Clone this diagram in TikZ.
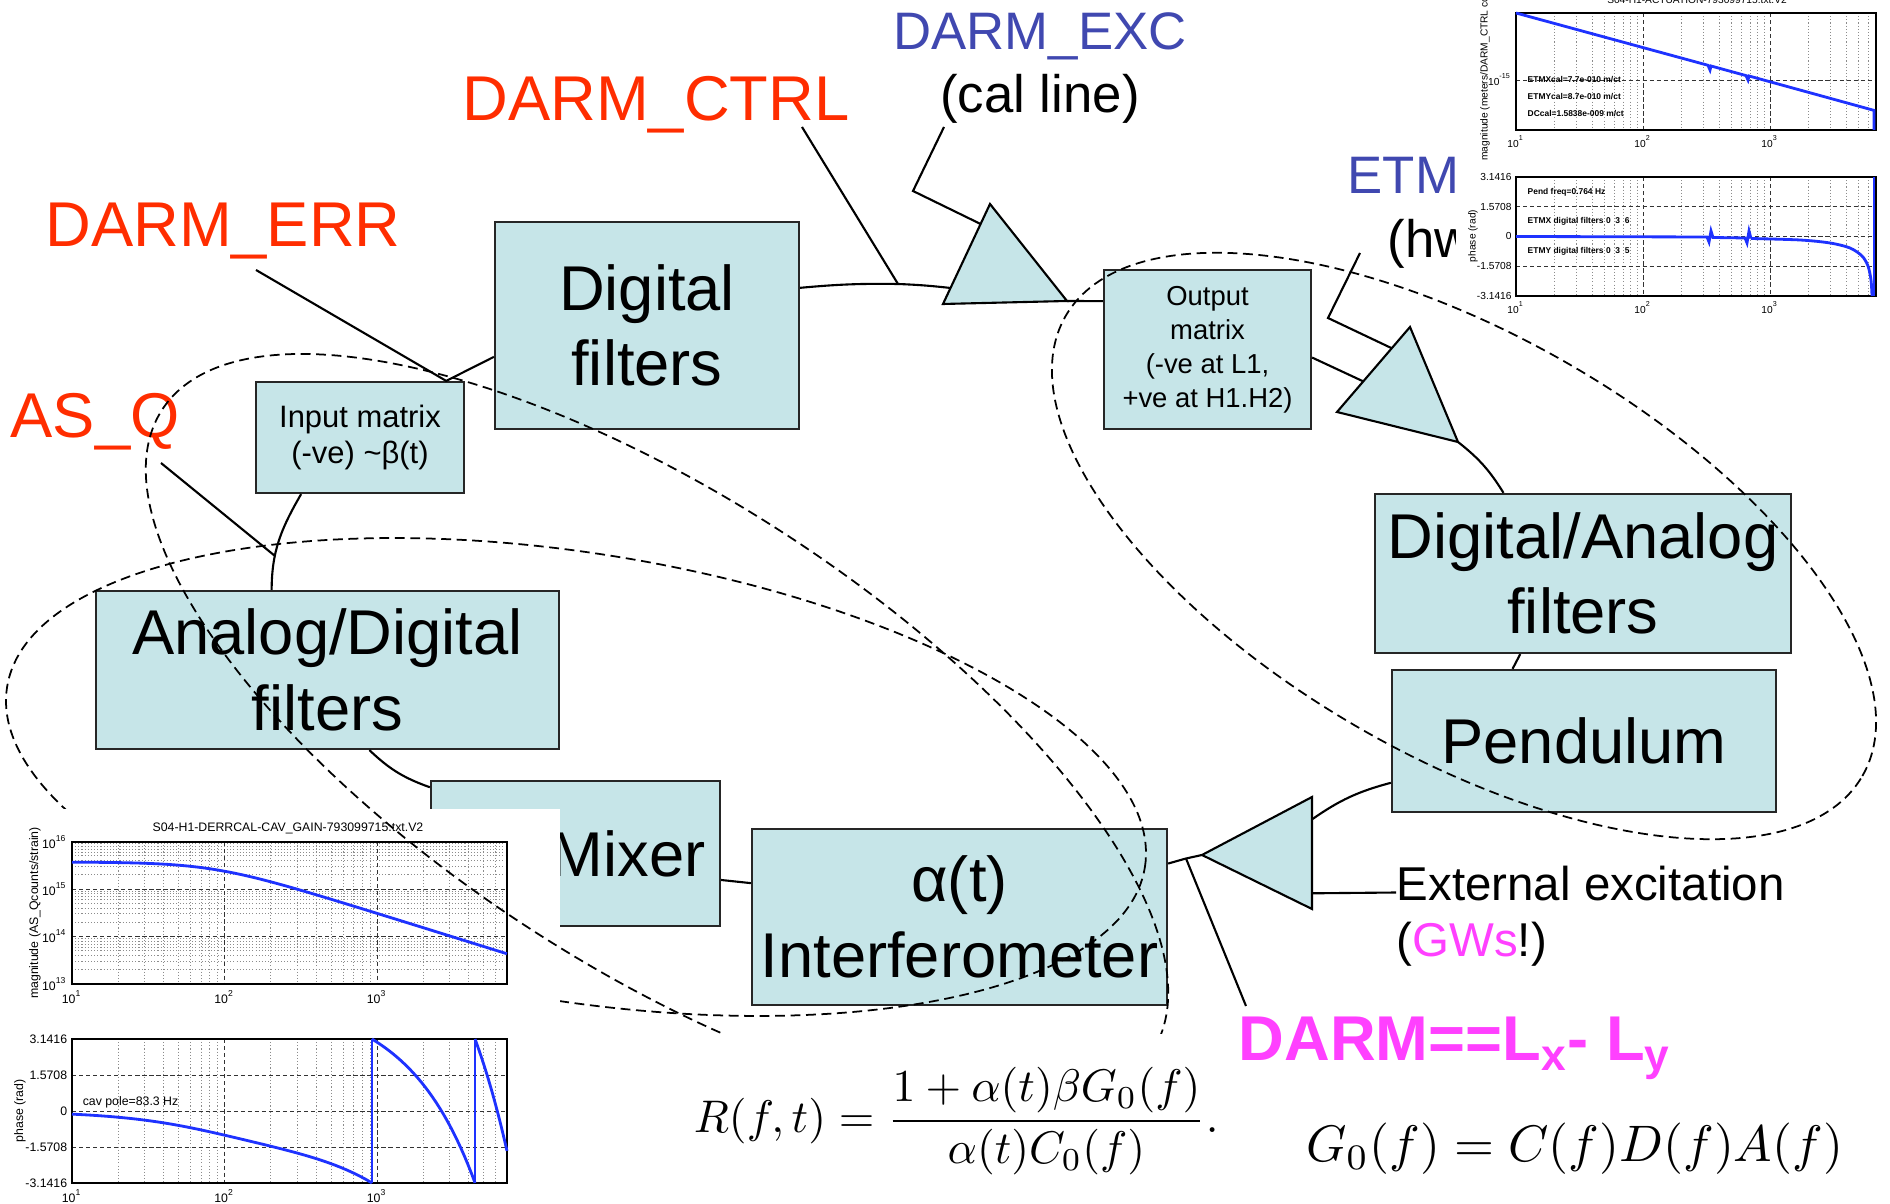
\documentclass[tikz,border=0pt]{standalone}
\usepackage[no-math]{fontspec}
\setmainfont{Liberation Sans}
\usepackage{tikz}
\usetikzlibrary{calc}

\definecolor{boxcyan}{RGB}{198,229,232}
\definecolor{darmred}{RGB}{255,45,0}
\definecolor{darmblue}{RGB}{64,72,176}
\definecolor{darmpink}{RGB}{255,64,255}
\definecolor{bodeblue}{RGB}{30,50,255}

\newcommand{\bigblockfont}{\fontsize{18}{21.5}\selectfont}
\newcommand{\inmatfont}{\fontsize{8.8}{10.2}\selectfont}
\newcommand{\outmatfont}{\fontsize{7.8}{9.7}\selectfont}
\newcommand{\sigfont}{\fontsize{18}{21}\selectfont}
\newcommand{\injfont}{\fontsize{15}{18}\selectfont}
\newcommand{\extfont}{\fontsize{13.5}{16}\selectfont}
\newcommand{\bodefont}{\fontsize{3.5}{4}\selectfont}
\newcommand{\actfont}{\fontsize{2.9}{3.4}\selectfont}
\newcommand{\pw}[1]{10\textsuperscript{#1}}

\tikzset{
  blockbox/.style={draw=black!85, fill=boxcyan, line width=0.6pt, inner sep=2pt, align=center, font=\bigblockfont},
  ampshape/.style={draw=black, fill=boxcyan, line width=0.6pt, line join=miter},
  wire/.style={draw=black, line width=0.6pt},
  loopdash/.style={draw=black, line width=0.5pt, dash pattern=on 2.8pt off 1.6pt},
  redlabel/.style={text=darmred, font=\sigfont, inner sep=0pt},
  bluelabel/.style={text=darmblue, font=\injfont, inner sep=0pt},
  blacklabel/.style={text=black, font=\injfont, inner sep=0pt},
  gridminor/.style={draw=black!45, line width=0.2pt, dash pattern=on 0.3pt off 0.6pt},
  gridmajor/.style={draw=black!80, line width=0.25pt, dash pattern=on 1.2pt off 0.8pt},
  plotframe/.style={draw=black, line width=0.6pt},
  bodecurve/.style={draw=bodeblue, line width=0.8pt},
  bodetick/.style={font=\bodefont, inner sep=0.6pt},
  acttick/.style={font=\actfont, inner sep=0.5pt},
  actnote/.style={font=\fontsize{2.4}{3}\selectfont\bfseries, inner sep=0pt, anchor=west},
}

\begin{document}
\begin{tikzpicture}[x=0.01cm, y=0.01cm]
    \useasboundingbox (0,0) rectangle (1890,-1204);

    % Signal names
    \node[redlabel, anchor=base] (darmctrl) at (656,-121) {DARM\_CTRL};
    \node[redlabel, anchor=base] (darmerr) at (223,-247) {DARM\_ERR};
    \node[redlabel, anchor=base] (asq) at (95,-438) {AS\_Q};
    \node[bluelabel, anchor=base] (darmexc) at (1040,-50) {DARM\_EXC};
    \node[blacklabel, anchor=base] (calline) at (1040,-113) {(cal line)};
    \node[bluelabel, anchor=base west] (etm) at (1347,-194) {ETM};
    \node[blacklabel, anchor=base west] (hwinj) at (1387,-258) {(hw};
    \node[anchor=base west, inner sep=0pt, font=\extfont] (extexc) at (1396,-901) {External excitation};
    \node[anchor=base west, inner sep=0pt, font=\extfont] (gws) at (1396,-957) {(\textcolor{darmpink}{GWs}!)};

    % Loop blocks
    \node[blockbox, minimum width=3.04cm, minimum height=2.07cm] (digf) at (647,-325.5) {Digital\\filters};
    \node[blockbox, font=\inmatfont, minimum width=2.08cm, minimum height=1.11cm] (inmat) at (360,-437.5) {Input matrix\\(-ve) \textasciitilde β(t)};
    \node[blockbox, minimum width=4.63cm, minimum height=1.58cm] (adf) at (327.5,-670) {Analog/Digital\\filters};
    \node[blockbox, minimum width=2.89cm, minimum height=1.45cm, text width=2.6cm, align=right] (mixer) at (575.5,-853.5) {Mixer};
    \node[blockbox, minimum width=4.15cm, minimum height=1.76cm] (ifo) at (959.5,-917) {α(t)\\Interferometer};
    \node[blockbox, font=\outmatfont, minimum width=2.07cm, minimum height=1.59cm] (outmat) at (1207.5,-349.5) {Output\\matrix\\(-ve at L1,\\+ve at H1.H2)};
    \node[blockbox, minimum width=4.16cm, minimum height=1.59cm] (daf) at (1583,-573.5) {Digital/Analog\\filters};
    \node[blockbox, minimum width=3.84cm, minimum height=1.42cm] (pend) at (1584,-741) {Pendulum};

    % Amplifiers
    \coordinate (exap) at (990,-204);
    \coordinate (exbl) at (943,-304);
    \coordinate (exbr) at (1067,-301);
    \draw[ampshape] (exap) -- (exbl) -- (exbr) -- cycle;
    \coordinate (etmap) at (1410,-327);
    \coordinate (etmlf) at (1337,-412);
    \coordinate (etmbr) at (1458,-442);
    \draw[ampshape] (etmap) -- (etmlf) -- (etmbr) -- cycle;
    \coordinate (ifotip) at (1202,-855);
    \coordinate (ifotop) at (1312,-797);
    \coordinate (ifobot) at (1312,-909);
    \draw[ampshape] (ifotip) -- (ifotop) -- (ifobot) -- cycle;

    % Connectors
    \coordinate (ctrltap) at (898,-284);
    \coordinate (ctrlfoot) at (802,-127);
    \coordinate (excfoot) at (944,-127);
    \coordinate (excknee) at (913,-191);
    \coordinate (errfoot) at (256,-270);
    \coordinate (errtap) at ($(inmat.north west)!.91!(inmat.north east)$);
    \coordinate (asqfoot) at (161,-463);
    \coordinate (asqtap) at (275,-556);
    \coordinate (darmtap) at (1186,-858.5);
    \coordinate (darmfoot) at (1246,-1006);
    \coordinate (etmfoot) at (1360,-253);
    \coordinate (etmknee) at (1328,-318);

    \draw[wire] ($(digf.north east)!.32!(digf.south east)$) to[bend left=3] (ctrltap) to[bend left=2] ($(exbl)!.16!(exap)$);
    \draw[wire] (ctrlfoot) -- (ctrltap);
    \draw[wire] (excfoot) -- (excknee) -- ($(exbl)!.8!(exap)$);
    \draw[wire] (exbr) -- ($(outmat.north west)!.2!(outmat.south west)$);
    \draw[wire] (errfoot) -- (errtap) -- ($(digf.north west)!.65!(digf.south west)$);
    \draw[wire] ($(inmat.south west)!.22!(inmat.south east)$) to[out=240, in=90] ($(adf.north west)!.38!(adf.north east)$);
    \draw[wire] (asqfoot) -- (asqtap);
    \draw[wire] ($(adf.south west)!.59!(adf.south east)$) to[bend right=12] ($(mixer.north west)!.05!(mixer.south west)$);
    \draw[wire] ($(mixer.north east)!.68!(mixer.south east)$) -- ($(ifo.north west)!.31!(ifo.south west)$);
    \draw[wire] ($(ifo.north east)!.2!(ifo.south east)$) -- (darmtap) -- (ifotip);
    \draw[wire] (darmtap) -- (darmfoot);
    \draw[wire] ($(ifotop)!.2!(ifobot)$) to[bend left=10] ($(pend.north west)!.79!(pend.south west)$);
    \draw[wire] ($(ifotop)!.86!(ifobot)$) -- ($(extexc.west)!.5!(extexc.base west)$);
    \draw[wire] ($(outmat.north east)!.55!(outmat.south east)$) -- ($(etmlf)!.36!(etmap)$);
    \draw[wire] (etmfoot) -- (etmknee) -- ($(etmlf)!.75!(etmap)$);
    \draw[wire] (etmbr) to[bend left=10] ($(daf.north west)!.31!(daf.north east)$);
    \draw[wire] ($(daf.south west)!.35!(daf.south east)$) -- ($(pend.north west)!.315!(pend.north east)$);

    % Lower dashed loop (goes under the plot)
    \draw[loopdash, rotate around={-9:(576,-777)}] (576,-777) ellipse [x radius=576, y radius=224];

    % Bottom left: cavity gain Bode plot
    \fill[white] (0,-809) rectangle (560,-1204);
    \foreach \d in {0,1,2}{
        \foreach \k in {2,...,9}{
            \pgfmathsetmacro{\gx}{72+152.5*(\d+ln(\k)/2.302585)}
            \pgfmathsetmacro{\gy}{-984+47.5*(\d+ln(\k)/2.302585)}
            \draw[gridminor] (72,\gy) -- (507,\gy);
            \ifdim\gx pt<507pt
                \draw[gridminor] (\gx,-842) -- (\gx,-984);
                \draw[gridminor] (\gx,-1039) -- (\gx,-1183);
            \fi
        }
    }
    \foreach \gx in {224.5,377}{
        \draw[gridmajor] (\gx,-842) -- (\gx,-984);
        \draw[gridmajor] (\gx,-1039) -- (\gx,-1183);
    }
    \foreach \gy in {-889,-936.5,-1075,-1111,-1147}
        \draw[gridmajor] (72,\gy) -- (507,\gy);
    \draw[plotframe] (72,-842) rectangle (507,-984);
    \draw[plotframe] (72,-1039) rectangle (507,-1183);

    \draw[bodecurve] plot[domain=1:3.8525, samples=60] ({72+152.5*(\x-1)}, {-984+47.5*(2.568-ln(1+(pow(10,\x)/83.3)^2)/4.60517)});
    \draw[bodecurve] plot[domain=1:2.9671, samples=50] ({72+152.5*(\x-1)}, {-1111-22.9*(atan(pow(10,\x)/83.3)/57.2958+pow(10,\x)/558.25)});
    \draw[bodecurve] (372,-1183) -- (372,-1039);
    \draw[bodecurve] plot[domain=2.9671:3.643, samples=30] ({72+152.5*(\x-1)}, {-1111-22.9*(atan(pow(10,\x)/83.3)/57.2958+pow(10,\x)/558.25-6.28319)});
    \draw[bodecurve] (475,-1183) -- (475,-1039);
    \draw[bodecurve] plot[domain=3.643:3.8525, samples=15] ({72+152.5*(\x-1)}, {-1111-22.9*(atan(pow(10,\x)/83.3)/57.2958+pow(10,\x)/558.25-12.56637)});

    \node[bodetick] (bltitle) at (288,-828) {S04-H1-DERRCAL-CAV\_GAIN-793099715.txt.V2};
    \foreach \e/\gy in {16/-842,15/-889,14/-936.5,13/-984}
        \node[bodetick, anchor=east] (blm\e) at (70,\gy) {\pw{\e}};
    \foreach \e/\gx in {1/72,2/224.5,3/377}{
        \node[bodetick, anchor=north] (blfa\e) at (\gx,-988) {\pw{\e}};
        \node[bodetick, anchor=north] (blfb\e) at (\gx,-1187) {\pw{\e}};
    }
    \foreach \v/\gy [count=\i] in {3.1416/-1039,1.5708/-1075,0/-1111,-1.5708/-1147,-3.1416/-1183}
        \node[bodetick, anchor=east] (blp\i) at (70,\gy) {\v};
    \node[bodetick, rotate=90] (blmaglab) at (35,-913) {magnitude (AS\_Qcounts/strain)};
    \node[bodetick, rotate=90] (blphlab) at (20,-1111) {phase (rad)};
    \node[bodetick, anchor=south west] (blpole) at (80,-1111) {cav pole=83.3 Hz};

    % Sensing dashed loop
    \draw[loopdash, rotate around={-33:(657,-731)}] (657,-731) ellipse [x radius=590, y radius=235];

    % Response function
    \fill[white] (560,-1034) rectangle (1215,-1204);
    \node[anchor=west, inner sep=0pt, scale=1.3, transform shape] (rform) at (693,-1121) {$\displaystyle R(f,t)=\frac{1+\alpha(t)\beta G_0(f)}{\alpha(t)C_0(f)}.$};
    \node[anchor=base west, inner sep=0pt, scale=1.46, transform shape] (gform) at (1305,-1162) {$G_0(f)=C(f)D(f)A(f)$};

    % Top right: actuation Bode plot
    \fill[white] (1456,0) rectangle (1890,-313);
    \foreach \d in {0,1,2}{
        \foreach \k in {2,...,9}{
            \pgfmathsetmacro{\gx}{1516+127*(\d+ln(\k)/2.302585)}
            \ifdim\gx pt<1876pt
                \draw[gridminor] (\gx,-13) -- (\gx,-130);
                \draw[gridminor] (\gx,-177) -- (\gx,-296);
            \fi
        }
    }
    \foreach \gx in {1643,1770}{
        \draw[gridmajor] (\gx,-13) -- (\gx,-130);
        \draw[gridmajor] (\gx,-177) -- (\gx,-296);
    }
    \foreach \gy in {-80,-206.75,-236.5,-266.25}
        \draw[gridmajor] (1516,\gy) -- (1876,\gy);
    \draw[plotframe] (1516,-13) rectangle (1876,-130);
    \draw[plotframe] (1516,-177) rectangle (1876,-296);

    \draw[bodecurve] (1516,-13) -- (1708,-65.3) -- (1710,-70) -- (1711,-66) -- (1746,-75.6) -- (1748,-80) -- (1749,-76) -- (1874,-110.4) -- (1874,-130);
    \draw[bodecurve] (1516,-236.5) -- (1707,-237) -- (1709,-242) -- (1711,-231) -- (1713,-237.5) -- (1745,-238) -- (1747,-243) -- (1749,-231) -- (1751,-238.5)
        plot[smooth] coordinates {(1751,-238.5) (1800,-240) (1830,-243) (1850,-248) (1862,-256) (1868,-266) (1871,-280) (1872,-296)};
    \draw[bodecurve] (1874,-177) -- (1874,-296);

    \node[acttick, anchor=base] (trtitle) at (1697,-4) {S04-H1-ACTUATION-793099715.txt.V2};
    \node[acttick, rotate=90, anchor=west] (trmaglab) at (1485,-163) {magnitude (meters/DARM\_CTRL co};
    \node[acttick, rotate=90] (trphlab) at (1473,-236) {phase (rad)};
    \node[acttick, anchor=east] (trm15) at (1514,-80) {\pw{-15}};
    \foreach \e/\gx in {1/1516,2/1643,3/1770}{
        \node[acttick, anchor=north] (trfa\e) at (\gx,-133) {\pw{\e}};
        \node[acttick, anchor=north] (trfb\e) at (\gx,-299) {\pw{\e}};
    }
    \foreach \v/\gy [count=\i] in {3.1416/-177,1.5708/-206.75,0/-236.5,-1.5708/-266.25,-3.1416/-296}
        \node[acttick, anchor=east] (trp\i) at (1514,\gy) {\v};
    \node[actnote] (etmxcal) at (1527,-80) {ETMXcal=7.7e-010 m/ct};
    \node[actnote] (etmycal) at (1527,-97) {ETMYcal=8.7e-010 m/ct};
    \node[actnote] (dccal) at (1527,-114) {DCcal=1.5838e-009 m/ct};
    \node[actnote] (pendfreq) at (1527,-192) {Pend freq=0.764 Hz};
    \node[actnote] (etmxfilt) at (1527,-221) {ETMX digital filters 0\ \ 3\ \ 6};
    \node[actnote] (etmyfilt) at (1527,-251) {ETMY digital filters 0\ \ 3\ \ 5};

    % Actuation dashed loop
    \draw[loopdash, rotate around={-30:(1464,-546)}] (1464,-546) ellipse [x radius=460, y radius=210];

    % DARM definition
    \node[anchor=base west, inner sep=0pt, text=darmpink, font=\sigfont\bfseries] (darmdiff) at (1238,-1061) {DARM==L\textsubscript{x}- L\textsubscript{y}};
\end{tikzpicture}
\end{document}
